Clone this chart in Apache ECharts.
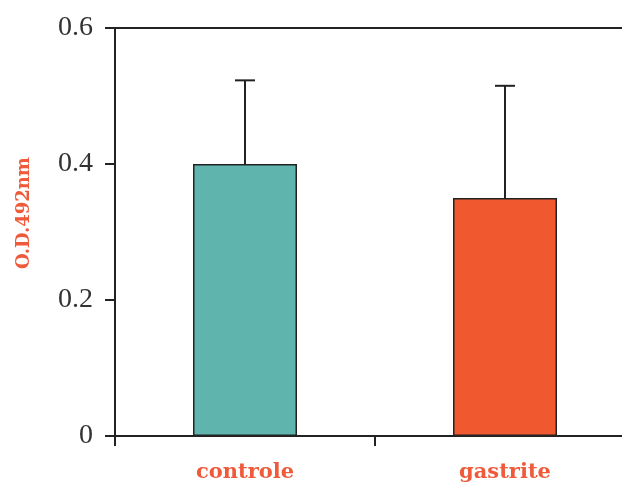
<!DOCTYPE html>
<html>
<head>
<meta charset="utf-8">
<script src="https://cdn.jsdelivr.net/npm/echarts@6/dist/echarts.min.js"></script>
<style>
  html, body { margin: 0; padding: 0; background: #fff; }
  #chart { width: 622px; height: 485px; }
</style>
</head>
<body>
<div id="chart"></div>
<script>
// Optical density at 492 nm, mean with upper standard-deviation bar
const categories = ['controle', 'gastrite'];
const means = [0.40, 0.35];
const errorTops = [0.523, 0.515];
const barColors = ['#5fb5ad', '#f0582f'];
const yTicks = [0, 0.2, 0.4, 0.6];

const axisColor = '#222';
const labelRed = '#ee5a3a';
const serif = '"Liberation Serif", "Times New Roman", serif';

const chart = echarts.init(document.getElementById('chart'), null, { renderer: 'canvas' });

chart.setOption({
  backgroundColor: '#fff',
  animation: false,
  grid: { left: 115, top: 28, bottom: 49, right: -13, outerBoundsMode: 'none', containLabel: false },
  xAxis: [{
    type: 'category',
    data: categories,
    position: 'bottom',
    axisLine: { show: true, lineStyle: { color: axisColor, width: 2 } },
    axisTick: { show: true, length: 10, alignWithLabel: false, lineStyle: { color: axisColor, width: 2 } },
    axisLabel: {
      margin: 26,
      color: labelRed,
      fontFamily: 'DejaVu Serif',
      fontWeight: 'bold',
      fontSize: 21
    }
  }, {
    // closing line along the top of the plot
    type: 'category',
    data: categories,
    position: 'top',
    axisLine: { show: true, lineStyle: { color: axisColor, width: 2 } },
    axisTick: { show: false },
    axisLabel: { show: false }
  }],
  yAxis: {
    type: 'value',
    min: 0,
    max: 0.6,
    interval: 0.2,
    name: 'O.D.492nm',
    nameLocation: 'middle',
    nameGap: 82,
    nameRotate: 90,
    nameTextStyle: {
      color: labelRed,
      fontFamily: 'DejaVu Serif',
      fontWeight: 'bold',
      fontSize: 18,
      padding: [0, 0, 0, 38]
    },
    axisLine: { show: true, lineStyle: { color: axisColor, width: 2 } },
    axisTick: { show: true, length: 10, lineStyle: { color: axisColor, width: 2 } },
    splitLine: { show: false },
    axisLabel: {
      margin: 22,
      color: '#333',
      fontFamily: serif,
      fontSize: 28,
      formatter: function (v) {
        const t = yTicks.find(function (k) { return Math.abs(k - v) < 1e-9; });
        return t === 0 ? '0' : String(t);
      }
    }
  },
  series: [{
    type: 'bar',
    barWidth: '40%',
    data: means.map(function (v, i) {
      return { value: v, itemStyle: { color: barColors[i] } };
    }),
    itemStyle: { borderColor: '#222', borderWidth: 1.5 },
    z: 2
  }, {
    type: 'custom',
    z: 3,
    data: errorTops.map(function (top, i) { return [i, means[i], top]; }),
    renderItem: function (params, api) {
      const base = api.coord([api.value(0), api.value(1)]);
      const top = api.coord([api.value(0), api.value(2)]);
      const half = 10;
      const style = { stroke: '#222', lineWidth: 2 };
      return {
        type: 'group',
        children: [
          { type: 'line', shape: { x1: base[0], y1: base[1], x2: top[0], y2: top[1] }, style: style },
          { type: 'line', shape: { x1: top[0] - half, y1: top[1], x2: top[0] + half, y2: top[1] }, style: style }
        ]
      };
    }
  }]
});
</script>
</body>
</html>
